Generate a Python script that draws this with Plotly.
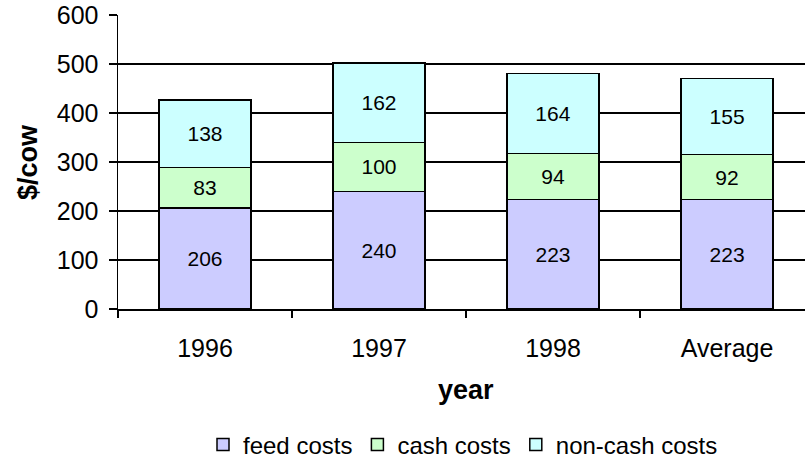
import plotly.graph_objects as go

categories = ["1996", "1997", "1998", "Average"]
feed_costs = [206, 240, 223, 223]
cash_costs = [83, 100, 94, 92]
non_cash_costs = [138, 162, 164, 155]

series = [
    ("feed costs", feed_costs, "#CCCCFF"),
    ("cash costs", cash_costs, "#CCFFCC"),
    ("non-cash costs", non_cash_costs, "#CCFFFF"),
]

FONT = "Liberation Sans, Arial, sans-serif"
TICK = 25
BAR = 21
TITLE = 27
LEG = 24

fig = go.Figure()
for name, vals, color in series:
    fig.add_trace(go.Bar(
        name=name, x=categories, y=vals,
        marker=dict(color=color, line=dict(color="black", width=1.5)),
        width=0.53,
        text=[str(v) for v in vals], textposition="inside",
        insidetextanchor="middle", textangle=0,
        constraintext="none",
        textfont=dict(family=FONT, size=BAR, color="black"),
        hoverinfo="skip",
    ))

fig.update_layout(
    barmode="stack",
    width=805, height=458,
    margin=dict(l=118, r=0, t=15, b=149, autoexpand=False),
    paper_bgcolor="white", plot_bgcolor="white",
    font=dict(family=FONT, size=TICK, color="black"),
    showlegend=True,
    legend=dict(orientation="h", xref="container", yref="container",
                x=203 / 805, xanchor="left", y=1 - 445 / 458, yanchor="middle",
                font=dict(family=FONT, size=LEG, color="black"),
                itemwidth=30, traceorder="normal", bgcolor="rgba(0,0,0,0)"),
    xaxis=dict(
        type="category", range=[-0.5, 3.448], automargin=False,
        showline=True, linecolor="black", linewidth=1.5,
        ticks="outside", tickson="boundaries", ticklen=7, tickcolor="black", tickwidth=1.5,
        showgrid=False, zeroline=False,
        tickfont=dict(family=FONT, size=TICK, color="black"),
        ticklabelstandoff=16,
    ),
    yaxis=dict(
        range=[0, 600], dtick=100, automargin=False,
        showline=True, linecolor="black", linewidth=1.5,
        ticks="outside", ticklen=8, tickcolor="black", tickwidth=1.5,
        showgrid=True, gridcolor="black", gridwidth=1.5,
        zeroline=False,
        tickfont=dict(family=FONT, size=TICK, color="black"),
        ticklabelstandoff=5,
    ),
    annotations=[
        dict(text="<b>year</b>", xref="paper", yref="paper",
             x=(466 - 118) / 687, y=(309 - 390) / 294, xanchor="center", yanchor="middle",
             showarrow=False, font=dict(family=FONT, size=TITLE, color="black")),
        dict(text="<b>$/cow</b>", xref="paper", yref="paper", textangle=-90,
             x=(28 - 118) / 687, y=0.5, xanchor="center", yanchor="middle",
             showarrow=False, font=dict(family=FONT, size=TITLE, color="black")),
    ],
)

fig.write_html(
    "out.html",
    config={"displayModeBar": False, "staticPlot": True},
    post_script="document.body.style.margin='0';document.body.style.overflow='hidden';",
)
